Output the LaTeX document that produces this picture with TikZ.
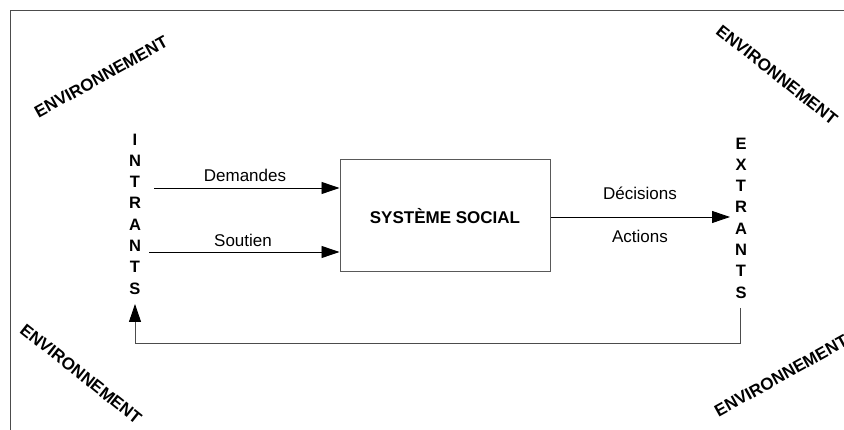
\documentclass[tikz,border=0pt]{standalone}
\usepackage{fontspec}
\setmainfont{Liberation Sans}
\usetikzlibrary{arrows.meta}
\begin{document}
\begin{tikzpicture}[x=1pt,y=-1pt,
  lbl/.style={font=\fontsize{17}{20}\selectfont, inner sep=0pt, anchor=base},
  envlbl/.style={font=\bfseries\fontsize{17}{20}\selectfont, inner sep=0pt},
  col/.style={font=\bfseries\fontsize{16.5}{21.3}\selectfont, align=center, inner sep=0pt},
  arr/.style={-{Triangle[length=18pt,width=12pt,color=black]}, line width=0.9pt, black},
  frameline/.style={line width=1pt, black!70},
  sysbox/.style={draw=black!65, line width=1pt, minimum width=210pt, minimum height=112pt,
    font=\bfseries\fontsize{17}{20}\selectfont}]
\useasboundingbox (0,0) rectangle (844,430);
\draw[frameline] (10,430) -- (10,11) -- (844,11);
% environment labels
\node[envlbl, rotate=29] (envtl) at (101,77) {ENVIRONNEMENT};
\node[envlbl, rotate=-38.5] (envtr) at (777,75) {ENVIRONNEMENT};
\node[envlbl, rotate=-38.5] (envbl) at (81,374) {ENVIRONNEMENT};
\node[envlbl, rotate=29] (envbr) at (781,376) {ENVIRONNEMENT};
% columns
\node[col] (intr) at (135,214) {I\\N\\T\\R\\A\\N\\T\\S};
\node[col] (extr) at (741,218) {E\\X\\T\\R\\A\\N\\T\\S};
% system box
\node[sysbox] (box) at (445,216) {SYSTÈME SOCIAL};
% inputs
\coordinate (d0) at (154,188);
\coordinate (s0) at (149,252);
\draw[arr] (d0) -- (d0 -| box.west);
\draw[arr] (s0) -- (s0 -| box.west);
\node[lbl] (dem) at (245,182) {Demandes};
\node[lbl] (sou) at (243,247) {Soutien};
% output
\coordinate (o1) at (730,217);
\draw[arr] (o1 -| box.east) -- (o1);
\node[lbl] (dec) at (640,200) {Décisions};
\node[lbl] (act) at (640,243) {Actions};
% feedback
\coordinate (fb0) at (740,308);
\coordinate (fb1) at (135,304);
\draw[arr, draw=black!70] (fb0) -- (740,343) -- (135,343) -- (fb1);
\end{tikzpicture}
\end{document}
